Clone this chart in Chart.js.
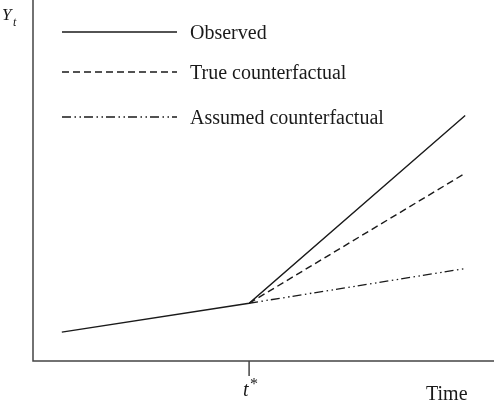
<!DOCTYPE html>
<html>
<head>
<meta charset="utf-8">
<script src="https://cdn.jsdelivr.net/npm/chart.js@4.4.1/dist/chart.umd.min.js"></script>
<style>
    body { margin: 0; background: #fff; }
    #wrap { width: 494px; height: 407px; position: relative; }
</style>
</head>
<body>
<div id="wrap"><canvas id="didChart" width="494" height="407"></canvas></div>
<script>
// Chart values
const times = [1, 7.5, 15];
const tStar = 7.5;
const observed = [1, 2, 8.5];
const trueCounterfactual = [null, 2, 6.5];
const assumedCounterfactual = [null, 2, 3.2];
const seriesLabels = ['Observed', 'True counterfactual', 'Assumed counterfactual'];

const toPoints = (arr) => times.map((t, i) => ({ x: t, y: arr[i] }));

const ink = '#1a1a1a';
const serif = '"Liberation Serif", "Times New Roman", serif';

// Axes, t* tick, axis labels and the legend are drawn here
const decorations = {
    id: 'decorations',
    afterDraw(chart) {
        const ctx = chart.ctx;
        const area = chart.chartArea;
        const xs = chart.scales.x;
        ctx.save();

        // axis lines
        ctx.strokeStyle = '#444';
        ctx.lineWidth = 1.5;
        ctx.setLineDash([]);
        ctx.beginPath();
        ctx.moveTo(area.left, area.top);
        ctx.lineTo(area.left, area.bottom);
        ctx.lineTo(area.right, area.bottom);
        ctx.stroke();

        // t* tick
        const tx = xs.getPixelForValue(tStar);
        ctx.beginPath();
        ctx.moveTo(tx, area.bottom);
        ctx.lineTo(tx, area.bottom + 15);
        ctx.stroke();

        ctx.fillStyle = ink;
        ctx.textBaseline = 'alphabetic';
        ctx.textAlign = 'left';
        ctx.font = 'italic 20px ' + serif;
        ctx.fillText('t', tx - 6, 396);
        ctx.font = '16px ' + serif;
        ctx.fillText('*', tx + 1, 389);

        ctx.font = '20px ' + serif;
        ctx.fillText('Time', 426, 400);

        // Y_t
        ctx.font = 'italic 17px ' + serif;
        ctx.fillText('Y', 2, 20);
        ctx.font = 'italic 12px ' + serif;
        ctx.fillText('t', 13, 26);

        // legend
        const rows = [32, 72, 117];
        chart.data.datasets.forEach((ds, i) => {
            ctx.strokeStyle = ds.borderColor;
            ctx.lineWidth = ds.borderWidth;
            ctx.setLineDash(ds.borderDash || []);
            ctx.beginPath();
            ctx.moveTo(62, rows[i]);
            ctx.lineTo(177, rows[i]);
            ctx.stroke();
            ctx.setLineDash([]);
            ctx.font = '20px ' + serif;
            ctx.fillStyle = ink;
            ctx.fillText(ds.label, 190, rows[i] + 7);
        });

        ctx.restore();
    }
};

new Chart(document.getElementById('didChart'), {
    type: 'line',
    data: {
        datasets: [
            {
                label: seriesLabels[0],
                data: toPoints(observed),
                borderColor: ink,
                borderWidth: 1.4,
                borderDash: []
            },
            {
                label: seriesLabels[1],
                data: toPoints(trueCounterfactual),
                borderColor: ink,
                borderWidth: 1.4,
                borderDash: [7, 4]
            },
            {
                label: seriesLabels[2],
                data: toPoints(assumedCounterfactual),
                borderColor: ink,
                borderWidth: 1.3,
                borderDash: [9, 3.5, 1.5, 3.5, 1.5, 3]
            }
        ]
    },
    options: {
        responsive: false,
        animation: false,
        layout: { padding: { left: 33, top: 0, right: 0, bottom: 46 } },
        elements: {
            point: { radius: 0, hoverRadius: 0 },
            line: { tension: 0 }
        },
        plugins: {
            legend: { display: false },
            tooltip: { enabled: false }
        },
        scales: {
            x: { type: 'linear', min: 0, max: 16, display: false },
            y: { type: 'linear', min: 0, max: 12.5, display: false }
        }
    },
    plugins: [decorations]
});
</script>
</body>
</html>
